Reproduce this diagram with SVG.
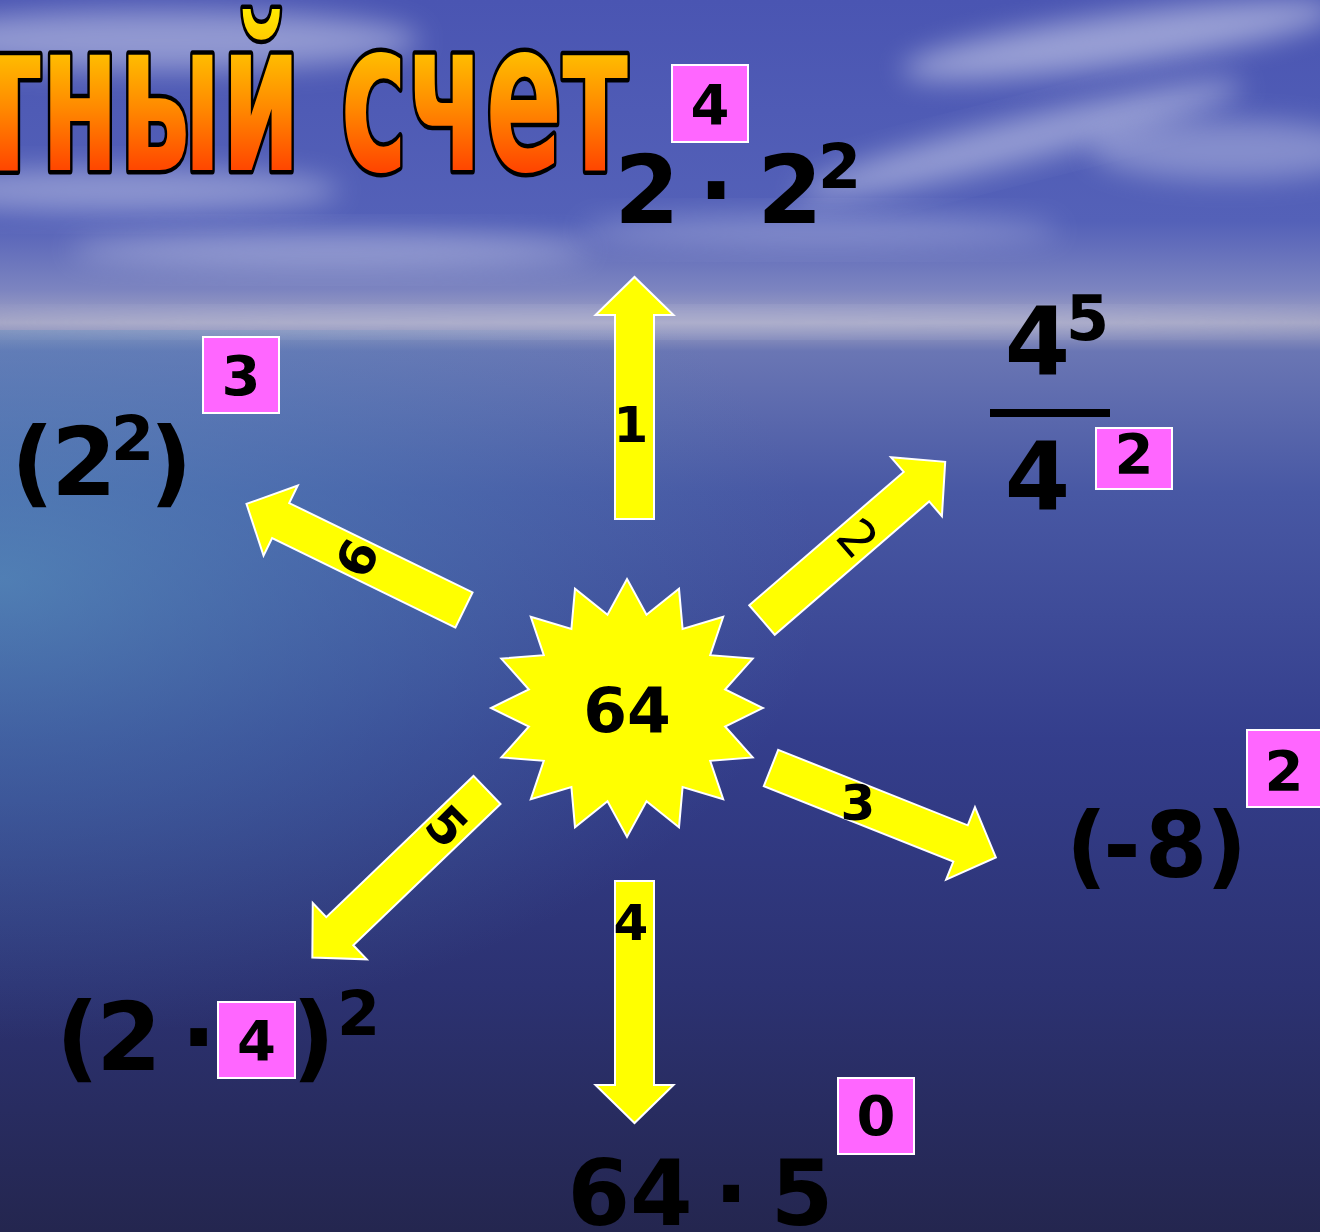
<svg xmlns="http://www.w3.org/2000/svg" width="1320" height="1232" viewBox="0 0 1320 1232">
<defs>
<linearGradient id="bg" x1="0" y1="0" x2="0" y2="1232" gradientUnits="userSpaceOnUse">
<stop offset="0" stop-color="#4a55b2"/>
<stop offset="0.18" stop-color="#5461b8"/>
<stop offset="0.235" stop-color="#7c84c0"/>
<stop offset="0.262" stop-color="#a3a4c4"/>
<stop offset="0.285" stop-color="#6a76b4"/>
<stop offset="0.4" stop-color="#4858a4"/>
<stop offset="0.6" stop-color="#343e8c"/>
<stop offset="0.8" stop-color="#2c3272"/>
<stop offset="1" stop-color="#24264f"/>
</linearGradient>
<radialGradient id="teal" cx="0" cy="0" r="1" gradientUnits="userSpaceOnUse" gradientTransform="translate(0,580) scale(820,460)">
<stop offset="0" stop-color="#5a9ec4" stop-opacity="0.6"/>
<stop offset="0.5" stop-color="#5088bc" stop-opacity="0.35"/>
<stop offset="1" stop-color="#4f80b8" stop-opacity="0"/>
</radialGradient>
<linearGradient id="title" x1="0" y1="10" x2="0" y2="172" gradientUnits="userSpaceOnUse">
<stop offset="0" stop-color="#ffe800"/>
<stop offset="0.25" stop-color="#ffc000"/>
<stop offset="0.6" stop-color="#ff8a00"/>
<stop offset="1" stop-color="#ff4400"/>
</linearGradient>
<filter id="blur" x="-50%" y="-50%" width="200%" height="200%"><feGaussianBlur stdDeviation="14"/></filter>
<path id="arrow" d="M0,-19.5 L204,-19.5 L204,-39 L242,0 L204,39 L204,19.5 L0,19.5 Z"/>
<style>
.ex{font-family:"DejaVu Sans","Verdana",sans-serif;font-weight:bold;fill:#000;text-anchor:middle}
.big{font-size:94px}
.sup{font-size:62px}
.box{fill:#ff66ff;stroke:#ffffff;stroke-width:2}
.bn{font-size:56px}
.arr{fill:#ffff00;stroke:#ffffff;stroke-width:2;stroke-linejoin:miter}
.al{font-family:"DejaVu Sans","Verdana",sans-serif;font-weight:bold;font-size:50px;fill:#000;text-anchor:middle}
.thin{font-weight:normal}
.cloud{fill:#e6e8f6;filter:url(#blur)}
</style>
</defs>

<g id="background">
<rect x="0" y="0" width="1320" height="1232" fill="url(#bg)"/>
<rect x="0" y="330" width="1320" height="902" fill="url(#teal)"/>
<ellipse class="cloud" cx="160" cy="40" rx="260" ry="30" opacity="0.45"/>
<ellipse class="cloud" cx="120" cy="190" rx="220" ry="22" opacity="0.4"/>
<ellipse class="cloud" cx="330" cy="250" rx="260" ry="18" opacity="0.35"/>
<ellipse class="cloud" cx="1120" cy="40" rx="220" ry="26" opacity="0.5" transform="rotate(-8 1120 40)"/>
<ellipse class="cloud" cx="1020" cy="140" rx="230" ry="22" opacity="0.45" transform="rotate(-14 1020 140)"/>
<ellipse class="cloud" cx="1230" cy="150" rx="140" ry="30" opacity="0.35"/>
<ellipse class="cloud" cx="820" cy="230" rx="240" ry="16" opacity="0.3"/>
<ellipse class="cloud" cx="660" cy="322" rx="700" ry="9" opacity="0.3"/>
</g>

<g id="title-node">
<text x="-25" y="170" textLength="653" lengthAdjust="spacingAndGlyphs" font-family="'DejaVu Sans','Liberation Sans',Arial,sans-serif" font-weight="bold" font-size="210" fill="url(#title)" stroke="#000" stroke-width="9" paint-order="stroke" stroke-linejoin="round">тный счет</text>
</g>

<g id="connectors">
<g id="arrow-1"><use href="#arrow" class="arr" transform="translate(634.5,519) rotate(-90)"/><text class="al" x="631" y="442">1</text></g>
<g id="arrow-2"><use href="#arrow" class="arr" transform="translate(762,620) rotate(-40.8)"/><text class="al thin" transform="translate(858,538) rotate(49)" y="18">2</text></g>
<g id="arrow-3"><use href="#arrow" class="arr" transform="translate(771,768) rotate(21.7)"/><text class="al" x="858" y="820">3</text></g>
<g id="arrow-4"><use href="#arrow" class="arr" transform="translate(634.5,881) rotate(90)"/><text class="al" x="631" y="940">4</text></g>
<g id="arrow-5"><use href="#arrow" class="arr" transform="translate(487,790) rotate(136.2)"/><text class="al" transform="translate(447,826) rotate(45)" y="18">5</text></g>
<g id="arrow-6"><use href="#arrow" class="arr" transform="translate(464,610) rotate(206)"/><text class="al" transform="translate(357,558) rotate(-64)" y="18">6</text></g>
</g>

<g id="center-64">
<polygon fill="#ffff00" stroke="#ffffff" stroke-width="2" points="627,579 646.5,614.8 679,588.8 682.6,629 723.2,616.8 710.2,655.2 752.7,658.6 725.1,689.5 763,708 725.1,726.5 752.7,757.4 710.2,760.8 723.2,799.2 682.6,787 679,827.2 646.5,801.2 627,837 607.5,801.2 575,827.2 571.4,787 530.8,799.2 543.8,760.8 501.3,757.4 528.9,726.5 491,708 528.9,689.5 501.3,658.6 543.8,655.2 530.8,616.8 571.4,629 575,588.8 607.5,614.8"/>
<text class="ex" x="627" y="732" font-size="63">64</text>
</g>

<g id="node-1">
<text class="ex big" x="647" y="223">2</text>
<text class="ex big" x="716" y="223">·</text>
<text class="ex big" x="790" y="223">2</text>
<text class="ex sup" x="839.5" y="188">2</text>
<rect class="box" x="672" y="65" width="76" height="77"/>
<text class="ex bn" x="710" y="124">4</text>
</g>

<g id="node-2">
<text class="ex big" x="1037.5" y="375">4</text>
<text class="ex sup" x="1087.5" y="340">5</text>
<rect x="990" y="409" width="120" height="8" fill="#000"/>
<text class="ex big" x="1037.5" y="510">4</text>
<rect class="box" x="1096" y="428" width="76" height="61"/>
<text class="ex bn" x="1134" y="473">2</text>
</g>

<g id="node-3">
<text class="ex" font-size="90" x="1086.5" y="877">(</text>
<text class="ex" font-size="90" x="1122" y="877">-</text>
<text class="ex" font-size="90" x="1176" y="877">8</text>
<text class="ex" font-size="90" x="1226.5" y="877">)</text>
<rect class="box" x="1247" y="730" width="74" height="77"/>
<text class="ex bn" x="1284" y="790">2</text>
</g>

<g id="node-4">
<text class="ex" font-size="90" x="630" y="1225">64</text>
<text class="ex" font-size="90" x="731" y="1225">·</text>
<text class="ex" font-size="90" x="802" y="1225">5</text>
<rect class="box" x="838" y="1078" width="76" height="76"/>
<text class="ex bn" x="876" y="1135">0</text>
</g>

<g id="node-5">
<text class="ex big" x="77.5" y="1070">(</text>
<text class="ex big" x="129" y="1070">2</text>
<text class="ex big" x="198.5" y="1070">·</text>
<rect class="box" x="218" y="1002" width="77" height="76"/>
<text class="ex bn" x="256.5" y="1060">4</text>
<text class="ex big" x="313.5" y="1070">)</text>
<text class="ex sup" x="358.5" y="1035">2</text>
</g>

<g id="node-6">
<text class="ex big" x="32.5" y="495">(</text>
<text class="ex big" x="84" y="495">2</text>
<text class="ex sup" x="132.5" y="460">2</text>
<text class="ex big" x="171" y="495">)</text>
<rect class="box" x="203" y="337" width="76" height="76"/>
<text class="ex bn" x="241" y="395">3</text>
</g>
</svg>
